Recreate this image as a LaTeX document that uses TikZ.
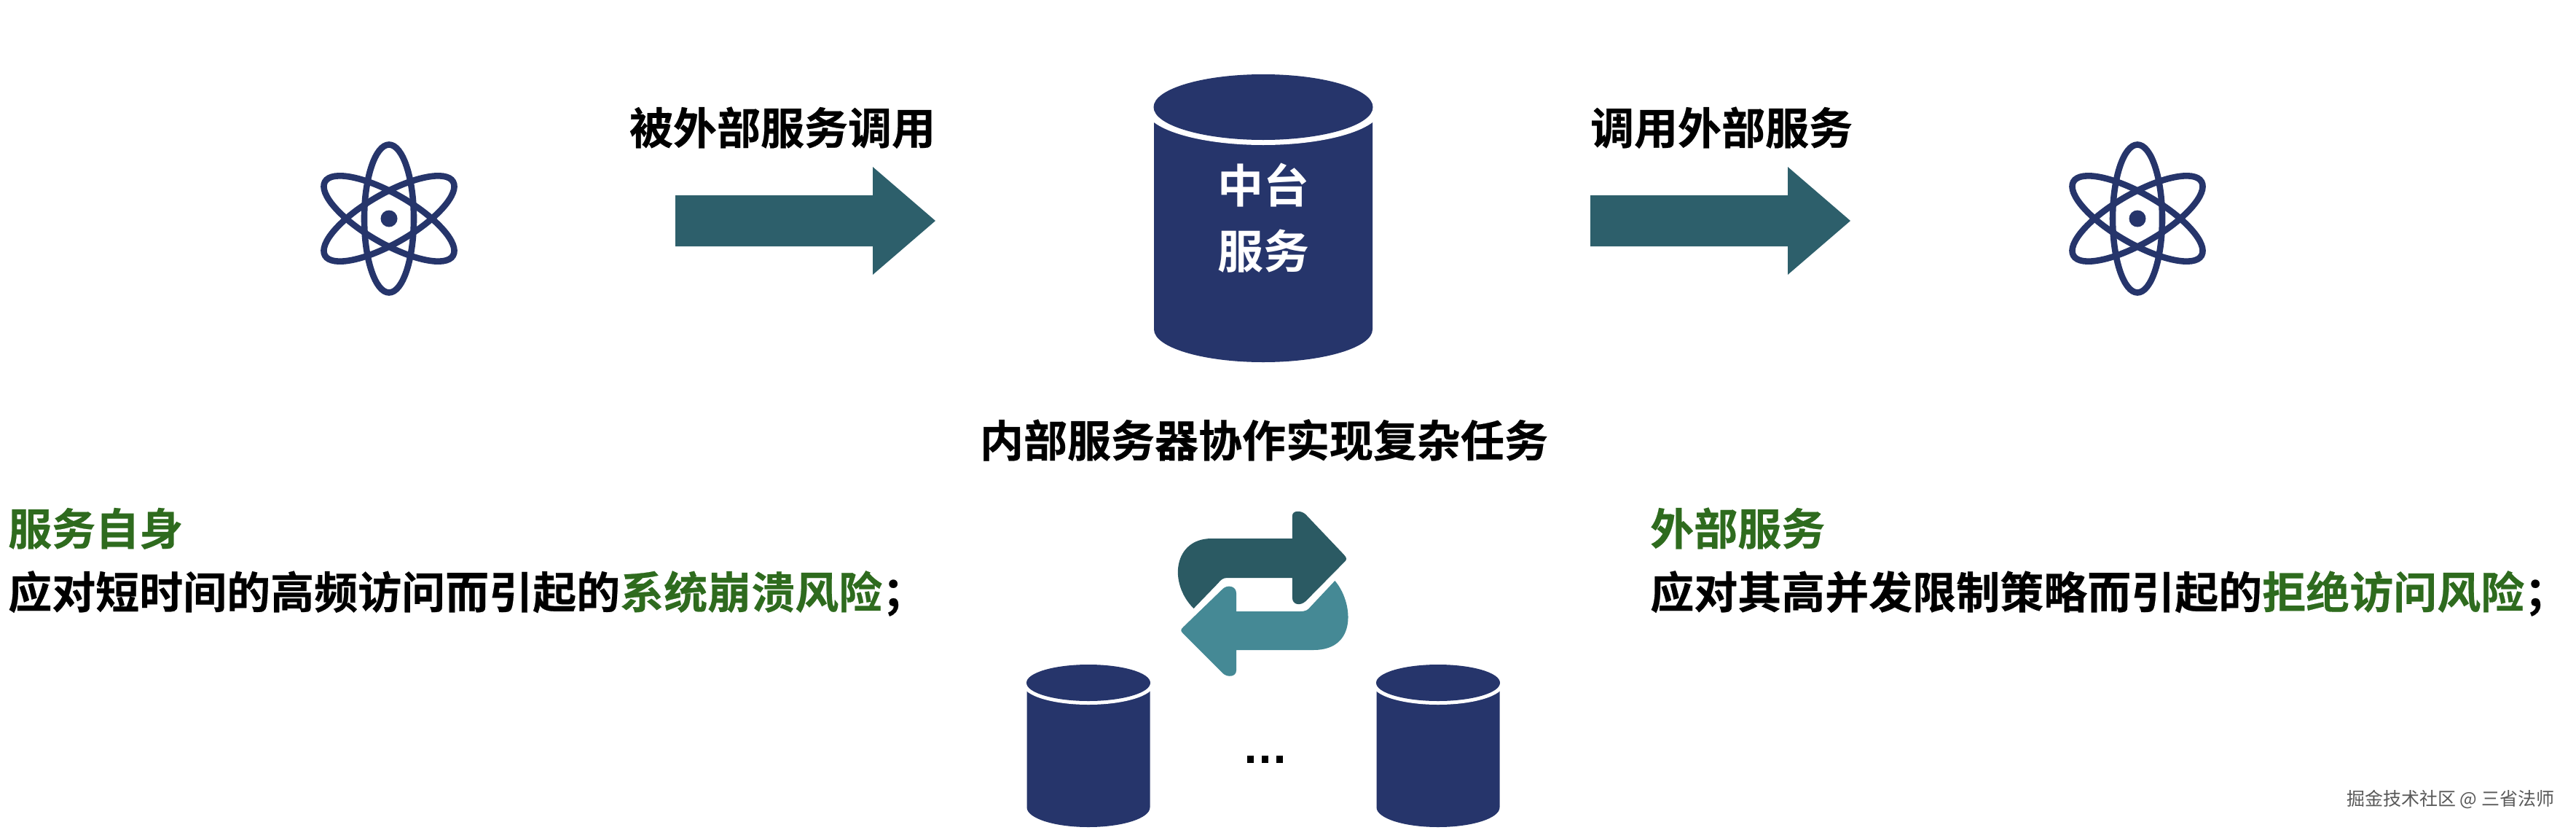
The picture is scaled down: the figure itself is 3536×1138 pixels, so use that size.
\documentclass[tikz,border=0pt]{standalone}
\usepackage{fontspec}
\setmainfont{Noto Sans CJK SC}[BoldFont={* Bold},BoldFeatures={FakeBold=0.4}]
\newfontfamily\wmfont{Noto Sans CJK SC}
\newfontfamily\medfont{Noto Sans CJK SC Bold}
\definecolor{navy}{HTML}{26356B}
\definecolor{arrowteal}{HTML}{2D5F6B}
\definecolor{tealdark}{HTML}{2B5A63}
\definecolor{teallight}{HTML}{458995}
\definecolor{greentxt}{HTML}{2E6B1E}
\tikzset{
  lbl/.style={inner sep=0pt,anchor=base west,font=\fontsize{60}{70}\selectfont\bfseries,text=black},
  lblc/.style={inner sep=0pt,anchor=base,font=\fontsize{60}{70}\selectfont\bfseries,text=black},
  whitelbl/.style={inner sep=0pt,anchor=base,font=\medfont\fontsize{63}{70}\selectfont,text=white},
  orbit/.style={draw=navy,line width=8.6pt,fill=none},
}
\newcommand{\atomicon}[2]{%
  \begin{scope}[shift={(#1,#2)}]
    \draw[orbit] (0,0) ellipse [x radius=34,y radius=101.5];
    \draw[orbit,rotate=60] (0,0) ellipse [x radius=34,y radius=101.5];
    \draw[orbit,rotate=-60] (0,0) ellipse [x radius=34,y radius=101.5];
    \fill[navy] (0,0) circle (11.5);
  \end{scope}}
\newcommand{\bigarrow}[1]{%
  \fill[arrowteal,shift={(#1,0)}] (0,268)--(271,268)--(271,229)--(357,303)--(271,377)--(271,338)--(0,338)--cycle;}
\begin{document}
\begin{tikzpicture}[x=1pt,y=-1pt]
\useasboundingbox (0,0) rectangle (3536,1138);
\fill[white] (0,0) rectangle (3536,1138);
\atomicon{534}{300}
\atomicon{2934}{300}
% main db
\fill[navy] (1584,147) -- (1584,452) arc[start angle=180,end angle=0,x radius=150,y radius=45] -- (1884,147) -- cycle;
\fill[white] (1734,149) ellipse [x radius=162,y radius=50];
\fill[navy] (1734,147) ellipse [x radius=150.5,y radius=45];
\node[whitelbl] (t1) at (1734,278) {中台};
\node[whitelbl] (t2) at (1734,368) {服务};
% small db
\foreach \cx in {1494,1974}{
  \fill[navy] (\cx-84.5,937) -- (\cx-84.5,1108) arc[start angle=180,end angle=0,x radius=84.5,y radius=27] -- (\cx+84.5,937) -- cycle;
  \fill[white] (\cx,939) ellipse [x radius=90,y radius=28];
  \fill[navy] (\cx,937) ellipse [x radius=85,y radius=25];
}
% arrows
\bigarrow{927}
\bigarrow{2183}
% cycle arrows
\begin{scope}[shift={(-726.9,0)},xscale=1.538]
\fill[tealdark] (1538,835) .. controls (1515,800) and (1520,739) .. (1554,739) -- (1626,739) -- (1626,708)
 .. controls (1626,700) and (1634,700) .. (1638,706) -- (1672,761) .. controls (1675,766) and (1675,768) .. (1672,772)
 -- (1638,825) .. controls (1633,832) and (1626,830) .. (1626,820) -- (1626,793) -- (1568,793) .. controls (1564,793) and (1562,796) .. (1560,800) -- cycle;
\fill[teallight] (1664,797) .. controls (1680,825) and (1685,892) .. (1645,892) -- (1576,892) -- (1576,920)
 .. controls (1576,929) and (1568,930) .. (1564,924) -- (1529,870) .. controls (1526,866) and (1526,864) .. (1529,860)
 -- (1564,808) .. controls (1568,802) and (1576,804) .. (1576,814) -- (1576,839) -- (1633,839) .. controls (1638,839) and (1640,837) .. (1642,833) -- cycle;
\end{scope}
% dots
\foreach \x in {1716,1736,1756}{\fill[black] (\x-4.5,1037) rectangle (\x+4.5,1047);}
% text
\node[lblc] (a) at (1074,198) {被外部服务调用};
\node[lblc] (b) at (2363,198) {调用外部服务};
\node[lblc] (c) at (1735,627) {内部服务器协作实现复杂任务};
\node[lbl,text=greentxt] (d) at (11,748) {服务自身};
\node[lbl] (e) at (11,835) {应对短时间的高频访问而引起的\textcolor{greentxt}{系统崩溃风险}；};
\node[lbl,text=greentxt] (f) at (2265,748) {外部服务};
\node[lbl] (g) at (2265,835) {应对其高并发限制策略而引起的\textcolor{greentxt}{拒绝访问风险}；};
\node[inner sep=0pt,anchor=base west,font=\wmfont\fontsize{25}{30}\selectfont,text=gray!70!black] (w) at (3221,1105) {掘金技术社区 @ 三省法师};
\end{tikzpicture}
\end{document}
